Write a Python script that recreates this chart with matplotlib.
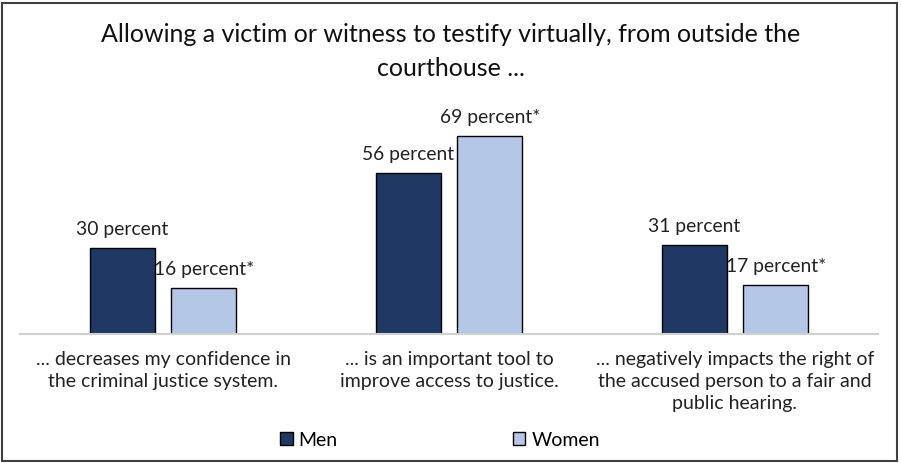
import matplotlib.pyplot as plt
from matplotlib.patches import Rectangle, Patch
import numpy as np

plt.rcParams['font.family'] = ['Lato', 'DejaVu Sans']

# data
categories = [
    "... decreases my confidence in\nthe criminal justice system.",
    "... is an important tool to\nimprove access to justice.",
    "... negatively impacts the right of\nthe accused person to a fair and\npublic hearing.",
]
men = [30, 56, 31]
women = [16, 69, 17]
men_labels = ["30 percent", "56 percent", "31 percent"]
women_labels = ["16 percent*", "69 percent*", "17 percent*"]

navy = '#203864'
light = '#B4C7E7'

fig = plt.figure(figsize=(9.01, 4.63), dpi=100)
ax = fig.add_axes([20 / 901, 1 - 334 / 463, 858 / 901, 230 / 463])

x = np.arange(len(categories))
w = 0.227
off = 0.143
b1 = ax.bar(x - off, men, w, color=navy, edgecolor='black', linewidth=1, label='Men')
b2 = ax.bar(x + off, women, w, color=light, edgecolor='black', linewidth=1, label='Women')

for bars, labs in [(b1, men_labels), (b2, women_labels)]:
    for rect, lab in zip(bars, labs):
        ax.annotate(lab, (rect.get_x() + rect.get_width() / 2, rect.get_height()),
                    xytext=(0, 7), textcoords='offset points',
                    ha='center', va='bottom', fontsize=13.9, color='#222222')

ax.set_xlim(-0.5, 2.5)
ax.set_ylim(0, 80)
ax.set_xticks(x)
ax.set_xticklabels(categories, fontsize=14, color='#222222', linespacing=1.36)
ax.tick_params(axis='x', length=0, pad=12)
ax.set_yticks([])
for s in ['top', 'right', 'left']:
    ax.spines[s].set_visible(False)
ax.spines['bottom'].set_color('#d0d0d0')
ax.spines['bottom'].set_linewidth(1.5)

fig.text(0.5, 1 - 35 / 463, "Allowing a victim or witness to testify virtually, from outside the",
         ha='center', va='center', fontsize=18, color='#111111')
fig.text(0.5, 1 - 68 / 463, "courthouse ...", ha='center', va='center', fontsize=18, color='#111111')

handles = [Patch(facecolor=navy, edgecolor='black'), Patch(facecolor=light, edgecolor='black')]
fig.legend(handles, ['Men', 'Women'], loc='center', bbox_to_anchor=(440 / 901, 1 - 440 / 463),
           ncol=2, frameon=False, fontsize=14, handlelength=0.65, handleheight=0.65,
           handletextpad=0.3, columnspacing=9.0, borderpad=0)

fig.add_artist(Rectangle((0.002, 0.004), 0.994, 0.99, transform=fig.transFigure,
                         fill=False, edgecolor='#404040', linewidth=1.5))

fig.savefig('out.png', dpi=100)
